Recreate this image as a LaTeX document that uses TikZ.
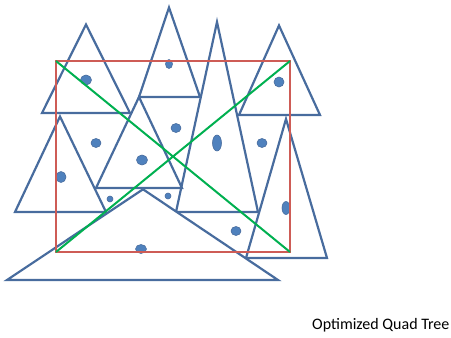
\documentclass[tikz,border=0pt]{standalone}
\usepackage{fontspec}
\setmainfont{Carlito}
\definecolor{triblue}{RGB}{72,108,158}
\definecolor{dotblue}{RGB}{79,129,189}
\definecolor{boxred}{RGB}{206,92,86}
\definecolor{cutgreen}{RGB}{0,176,80}

\begin{document}
\begin{tikzpicture}[x=1pt, y=-1pt, tri/.style={draw=triblue, line width=2.2pt}, obj/.style={fill=dotblue, draw=triblue, line width=0.6pt}]
	\useasboundingbox (0,0) rectangle (451,338);
	% objects (triangles)
	\draw[tri] (86,24.5) -- (130,113) -- (42,113) -- cycle;
	\draw[tri] (169,7.5) -- (200,97) -- (139,97) -- cycle;
	\draw[tri] (217,22) -- (258,212) -- (176,212) -- cycle;
	\draw[tri] (279,25.5) -- (320,115) -- (239,115) -- cycle;
	\draw[tri] (139,97) -- (182,188) -- (96,188) -- cycle;
	\draw[tri] (60,116.5) -- (106,212) -- (15,212) -- cycle;
	\draw[tri] (286,119) -- (327,258) -- (246,258) -- cycle;
	\filldraw[tri, fill=white] (143,189.3) -- (278,280) -- (7,280) -- cycle;
	% points
	\foreach \x/\y/\a/\b in {86/80/5.5/5, 169/64/3.5/4.5, 96/143/5/4.5, 176/128/5/4.5, 142/160/5.5/5, 217/143/4.5/8, 279/82/5/5, 262/143/5/4.5, 61/177/5/5.5, 110/199/3/3, 168/196/3/3, 141/249/5.5/4.5, 236/231/5/4.5, 286/208/4/6.5}
		{\draw[obj] (\x,\y) ellipse ({\a} and {\b});}
	% node box and split
	\coordinate (nw) at (56,61);
	\coordinate (ne) at (290,61);
	\coordinate (se) at (290,252);
	\coordinate (sw) at (56,252);
	\draw[boxred, line width=2.2pt] (nw) rectangle (se);
	\draw[cutgreen, line width=2pt] (nw) -- (se) (ne) -- (sw);
	\node[anchor=base west, inner sep=0pt, font=\fontsize{16}{19}\selectfont] (caption) at (312,329) {Optimized Quad Tree};
\end{tikzpicture}
\end{document}
